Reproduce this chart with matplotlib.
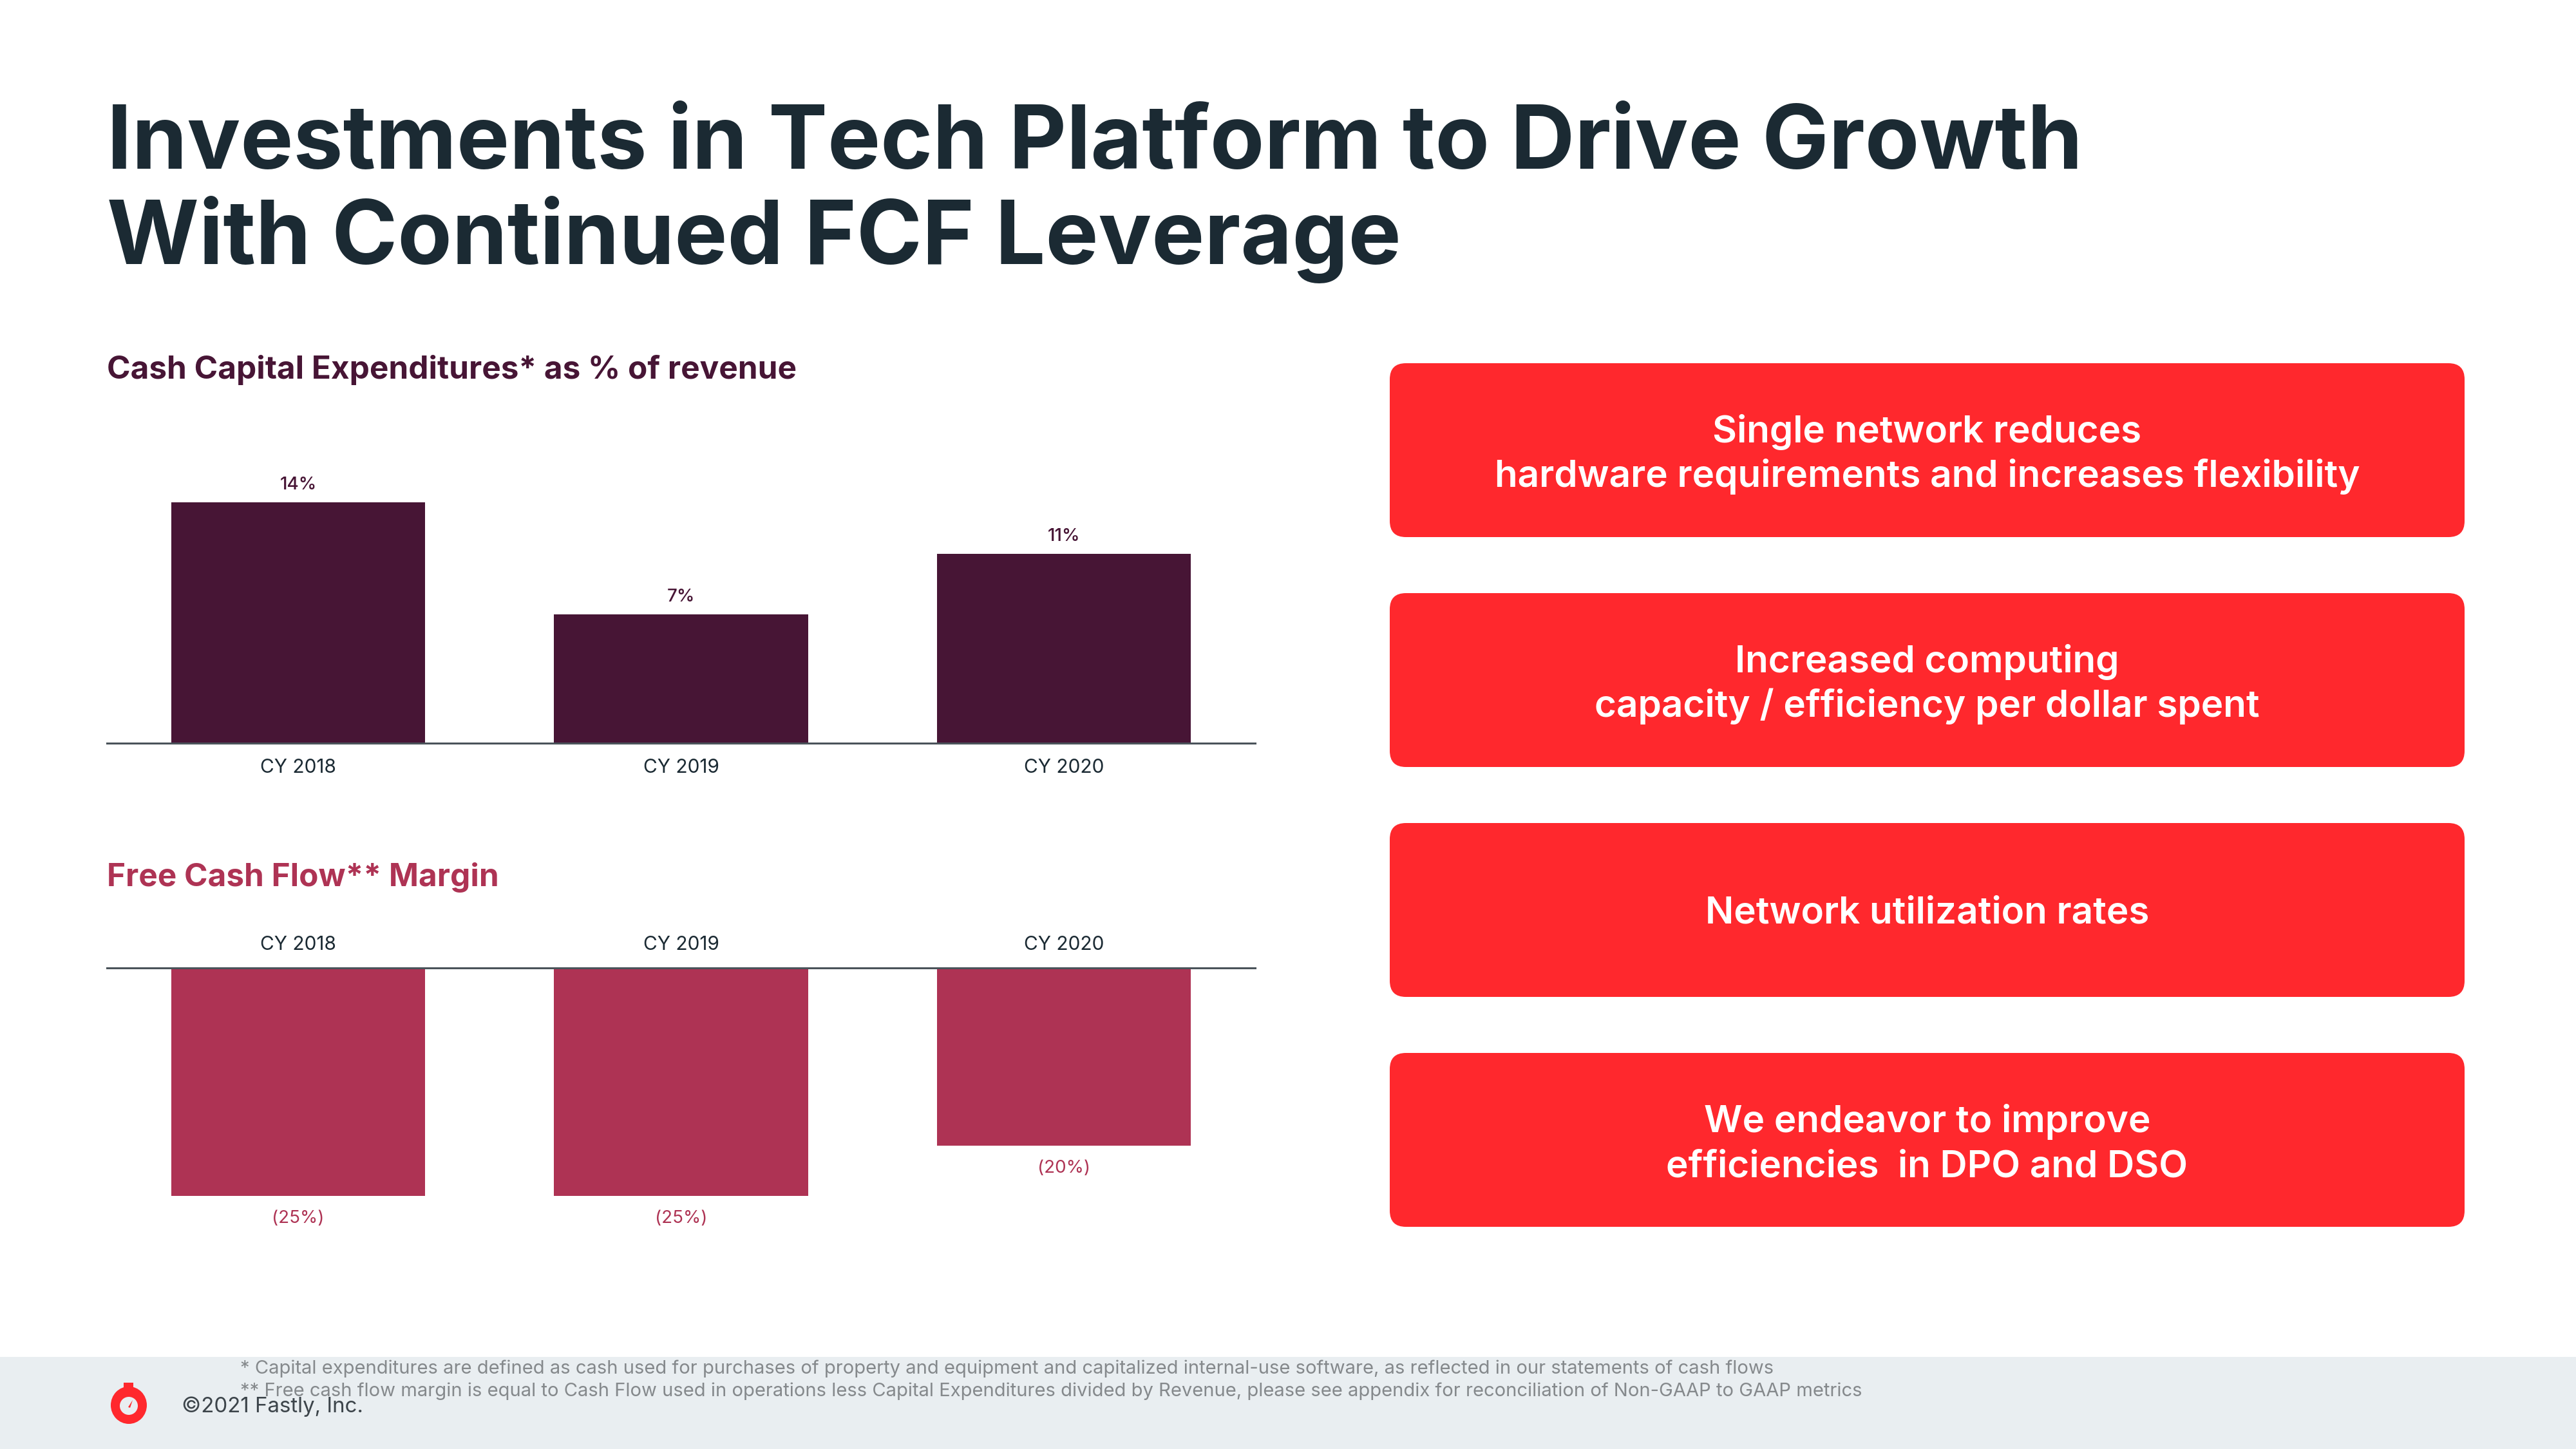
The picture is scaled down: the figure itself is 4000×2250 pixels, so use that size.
import matplotlib
matplotlib.use("Agg")
import matplotlib.pyplot as plt
from matplotlib.patches import FancyBboxPatch, Rectangle, Circle, Ellipse, Polygon

# ---------------- data ----------------
categories = ["CY 2018", "CY 2019", "CY 2020"]
capex_pct = [14.0, 7.5, 11.0]
capex_labels = ["14%", "7%", "11%"]
fcf_margin = [-25.0, -25.0, -19.5]
fcf_labels = ["(25%)", "(25%)", "(20%)"]

title_lines = ["Investments in Tech Platform to Drive Growth",
               "With Continued FCF Leverage"]
capex_title = "Cash Capital Expenditures* as % of revenue"
fcf_title = "Free Cash Flow** Margin"
box_texts = [["Single network reduces", "hardware requirements and increases flexibility"],
             ["Increased computing", "capacity / efficiency per dollar spent"],
             ["Network utilization rates"],
             ["We endeavor to improve", "efficiencies  in DPO and DSO"]]
footnotes = ["* Capital expenditures are defined as cash used for purchases of property and equipment and capitalized internal-use software, as reflected in our statements of cash flows",
             "** Free cash flow margin is equal to Cash Flow used in operations less Capital Expenditures divided by Revenue, please see appendix for reconciliation of Non-GAAP to GAAP metrics"]
copyright_text = "\u00a92021 Fastly, Inc."

# ---------------- style ----------------
FAM = ["Inter", "DejaVu Sans"]
plt.rcParams["font.family"] = FAM
C_TITLE = "#1b2a33"
C_PLUM = "#471535"
C_ROSE = "#ae3354"
C_RED = "#ff282d"
C_AXIS = "#4a535a"
C_FOOT_BG = "#e9eef1"
C_FOOT = "#85898c"

W, H = 4000, 2250
DPI = 100
fig = plt.figure(figsize=(W / DPI, H / DPI), dpi=DPI)
fig.patch.set_facecolor("white")
bg = fig.add_axes([0, 0, 1, 1])
bg.set_xlim(0, W)
bg.set_ylim(H, 0)
bg.axis("off")
renderer = fig.canvas.get_renderer()


def fit(t, target_w):
    bb = t.get_window_extent(renderer)
    t.set_fontsize(t.get_fontsize() * target_w / bb.width)
    return t.get_fontsize()


def fax(x0, y0, x1, y1):
    return [x0 / W, 1 - y1 / H, (x1 - x0) / W, (y1 - y0) / H]


# ---------------- title ----------------
t1 = bg.text(166, 262, title_lines[0], fontsize=100, fontweight="bold", color=C_TITLE, va="baseline", ha="left")
fs_title = fit(t1, 3066)
bg.text(166, 410, title_lines[1], fontsize=fs_title, fontweight="bold", color=C_TITLE, va="baseline", ha="left")

# ---------------- subtitles ----------------
s1 = bg.text(166, 588, capex_title, fontsize=33, fontweight="bold", color=C_PLUM, va="baseline", ha="left")
fs_sub = fit(s1, 1071)
bg.text(166, 1376, fcf_title, fontsize=fs_sub, fontweight="bold", color=C_ROSE, va="baseline", ha="left")

# ---------------- top chart: capex ----------------
px2pt = 72.0 / DPI
ax1 = fig.add_axes(fax(166, 727, 1949, 1154))
ax1.patch.set_alpha(0)
x = list(range(len(categories)))
ax1.bar(x, capex_pct, width=0.664, color=C_PLUM, zorder=2)
ax1.set_xlim(-0.5, 2.5)
ax1.set_ylim(0, 16)
for s in ["top", "left", "right"]:
    ax1.spines[s].set_visible(False)
ax1.spines["bottom"].set_color(C_AXIS)
ax1.spines["bottom"].set_linewidth(2.2)
ax1.spines["bottom"].set_zorder(3)
ax1.set_xticks([])
ax1.set_yticks([])
for i, (v, lab, cat) in enumerate(zip(capex_pct, capex_labels, categories)):
    ax1.annotate(lab, xy=(i, v), xytext=(0, 20 * px2pt), textcoords="offset points",
                 ha="center", va="baseline", fontsize=20, fontweight="medium", color=C_PLUM)
    ax1.annotate(cat, xy=(i, 0), xytext=(0, -46 * px2pt), textcoords="offset points",
                 ha="center", va="baseline", fontsize=21.5, color=C_TITLE, annotation_clip=False)

# ---------------- bottom chart: FCF margin ----------------
ax2 = fig.add_axes(fax(166, 1503, 1949, 1885))
ax2.patch.set_alpha(0)
ax2.bar(x, fcf_margin, width=0.664, color=C_ROSE, zorder=2)
ax2.set_xlim(-0.5, 2.5)
ax2.set_ylim(-27, 0)
for s in ["bottom", "left", "right"]:
    ax2.spines[s].set_visible(False)
ax2.spines["top"].set_color(C_AXIS)
ax2.spines["top"].set_linewidth(2.2)
ax2.spines["top"].set_zorder(3)
ax2.set_xticks([])
ax2.set_yticks([])
for i, (v, lab, cat) in enumerate(zip(fcf_margin, fcf_labels, categories)):
    ax2.annotate(lab, xy=(i, v), xytext=(0, -42 * px2pt), textcoords="offset points",
                 ha="center", va="baseline", fontsize=20, color=C_ROSE, annotation_clip=False)
    ax2.annotate(cat, xy=(i, 0), xytext=(0, 28 * px2pt), textcoords="offset points",
                 ha="center", va="baseline", fontsize=21.5, color=C_TITLE, annotation_clip=False)

# ---------------- red boxes ----------------
box_x0, box_x1 = 2158, 3827
box_tops = [564, 921, 1278, 1635]
box_h = 270
cx = (box_x0 + box_x1) / 2
probe = bg.text(cx, 0, box_texts[0][1], fontsize=36, fontweight="semibold", color="white", ha="center")
fs_box = fit(probe, 1346)
probe.remove()
for top, lines in zip(box_tops, box_texts):
    bg.add_patch(FancyBboxPatch((box_x0, top), box_x1 - box_x0, box_h,
                                boxstyle="round,pad=0,rounding_size=25",
                                facecolor=C_RED, edgecolor="none"))
    cy = top + box_h / 2
    if len(lines) == 2:
        ys = [cy - 12, cy + 57]
    else:
        ys = [cy + 21]
    for yy, ln in zip(ys, lines):
        bg.text(cx, yy, ln, fontsize=fs_box, fontweight="semibold", color="white",
                ha="center", va="baseline")

# ---------------- footer ----------------
bg.add_patch(Rectangle((0, 2107), W, H - 2107, facecolor=C_FOOT_BG, edgecolor="none"))
f2 = bg.text(373, 2168, footnotes[1], fontsize=18, color=C_FOOT, ha="left", va="baseline")
fs_foot = fit(f2, 2512)
bg.text(373, 2133, footnotes[0], fontsize=fs_foot, color=C_FOOT, ha="left", va="baseline")
cp = bg.text(282, 2193, copyright_text, fontsize=18, color="#3c444a", ha="left", va="baseline")
fit(cp, 282)

# logo (stopwatch)
bg.add_patch(Rectangle((192, 2147), 15, 12, facecolor=C_RED, edgecolor="none"))
bg.add_patch(Ellipse((200, 2182), 56, 58, facecolor=C_RED, edgecolor="none"))
bg.add_patch(Circle((200, 2183), 14, facecolor=C_FOOT_BG, edgecolor="none"))
bg.add_patch(Polygon([[199, 2185], [202, 2186], [206, 2174]], closed=True, facecolor=C_RED, edgecolor="none"))

fig.savefig("out.png", dpi=DPI, facecolor="white")
